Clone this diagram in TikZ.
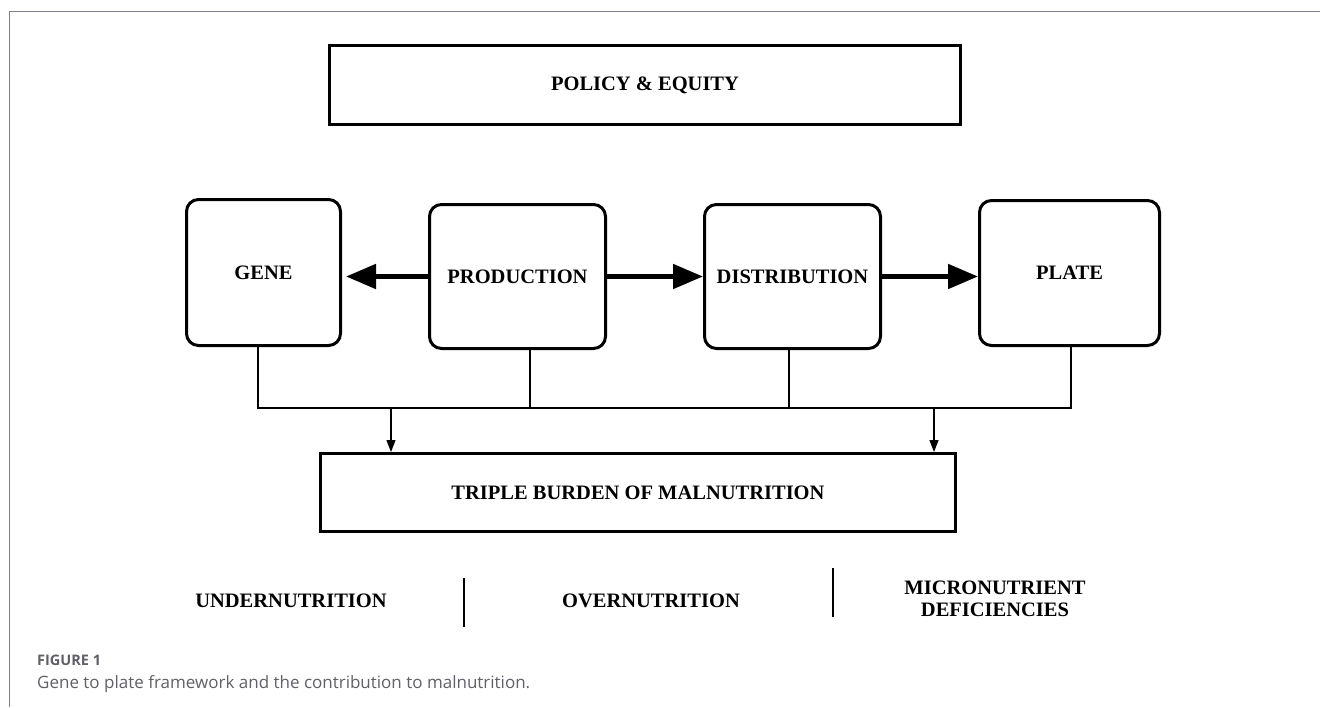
\documentclass[tikz,border=0pt]{standalone}
\usepackage{fontspec}
\setmainfont{Liberation Serif}
\newfontfamily\capfont{Open Sans}
\usetikzlibrary{arrows.meta,positioning}
\definecolor{framegray}{HTML}{80808C}
\definecolor{capgray}{HTML}{5F5F66}
\tikzset{
  stage/.style={draw, line width=3pt, rounded corners=12pt, inner sep=0pt,
    font=\fontsize{20.5}{24}\selectfont\bfseries},
  banner/.style={draw, line width=3pt, inner sep=0pt,
    font=\fontsize{20.5}{24}\selectfont\bfseries},
  kind/.style={align=center, inner sep=0pt,
    font=\fontsize{20.5}{22}\selectfont\bfseries},
  bus/.style={line width=1.8pt},
  flow/.style={line width=5pt, -{Triangle[length=30pt,width=24pt]}},
  tap/.style={line width=1.3pt, -{Triangle[length=12pt,width=9pt]}},
}
\begin{document}
\begin{tikzpicture}[x=1pt, y=-1pt]
        \useasboundingbox (0,0) rectangle (1320,707);
        \draw[framegray, line width=1.5pt] (9.5,707) -- (9.5,11.5) -- (1320,11.5);

        \node[banner, minimum width=631pt, minimum height=79pt] (policy) at (645,85) {POLICY \& EQUITY};

        \node[stage, minimum width=154pt, minimum height=146pt] (gene) at (263.5,272.5) {GENE};
        \node[stage, minimum width=176pt, minimum height=144pt] (prod) at (517.5,276.5) {PRODUCTION};
        \node[stage, minimum width=176pt, minimum height=144pt] (dist) at (792.5,276.5) {DISTRIBUTION};
        \node[stage, minimum width=180pt, minimum height=145pt] (plate) at (1069.5,273) {PLATE};

        \draw[flow, shorten >=4pt] (prod.west) -- (gene.east |- prod.west);
        \draw[flow] (prod.east) -- (dist.west);
        \draw[flow] (dist.east) -- (plate.west |- dist.east);

        \node[banner, minimum width=635pt, minimum height=78pt] (burden) at (638,492.5) {TRIPLE BURDEN OF MALNUTRITION};

        % joining bus under the four stages
        \coordinate (busW) at (258,408);
        \coordinate (busE) at (1071,408);
        \draw[bus] ([xshift=-5.5pt]gene.south) -- ([xshift=-5.5pt]gene.south |- busW) -- (busE) -- ([xshift=1.5pt]plate.south);
        \draw[bus] ([xshift=12.5pt]prod.south) -- ([xshift=12.5pt]prod.south |- busW);
        \draw[bus] ([xshift=-3.5pt]dist.south) -- ([xshift=-3.5pt]dist.south |- busW);

        \coordinate (tapL) at (391,408);
        \coordinate (tapR) at (934,408);
        \draw[tap] (tapL) -- (tapL |- burden.north);
        \draw[tap] (tapR) -- (tapR |- burden.north);

        \node[kind] (under) at (291,601) {UNDERNUTRITION};
        \node[kind] (over) at (651,601) {OVERNUTRITION};
        \node[kind] (micro) at (995,599) {MICRONUTRIENT\\DEFICIENCIES};
        \coordinate (barA) at (464,578);
        \coordinate (barB) at (833,568);
        \draw[line width=2pt] (barA) -- ++(0,49);
        \draw[line width=2pt] (barB) -- ++(0,49);

        \node[anchor=west, inner sep=0pt, text=capgray, font=\capfont\fontsize{14.5}{17}\selectfont\bfseries] (figno) at (37,660) {FIGURE 1};
        \node[anchor=west, inner sep=0pt, text=capgray, font=\capfont\fontsize{17}{20}\selectfont] (caption) at (37,684) {Gene to plate framework and the contribution to malnutrition.};
\end{tikzpicture}
\end{document}
